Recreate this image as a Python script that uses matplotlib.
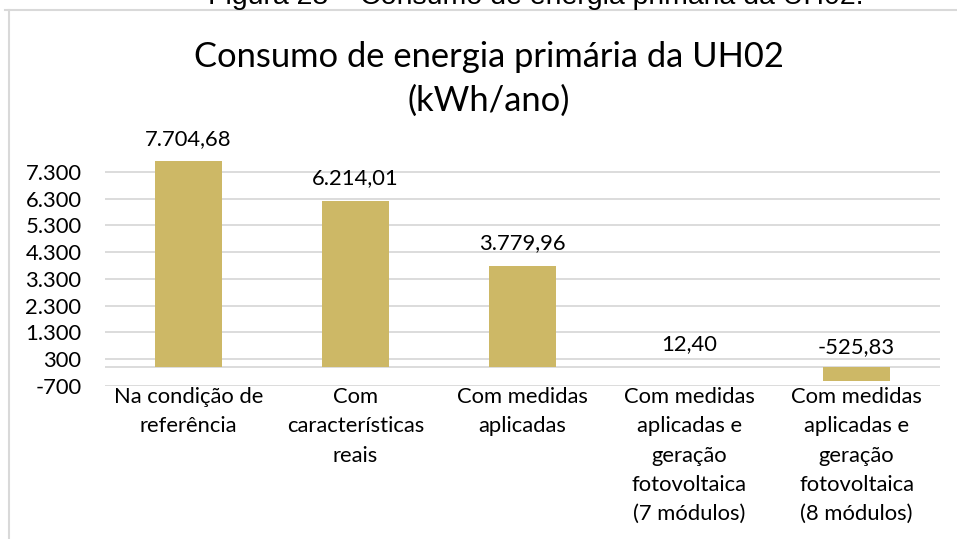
import matplotlib
matplotlib.use('Agg')
import matplotlib.pyplot as plt
from matplotlib.lines import Line2D
import numpy as np

plt.rcParams.update({
    'font.family': ['Lato', 'DejaVu Sans'],
    'figure.dpi': 100,
    'savefig.dpi': 100,
})

# data
categories = [
    'Na condição de\nreferência',
    'Com\ncaracterísticas\nreais',
    'Com medidas\naplicadas',
    'Com medidas\naplicadas e\ngeração\nfotovoltaica\n(7 módulos)',
    'Com medidas\naplicadas e\ngeração\nfotovoltaica\n(8 módulos)',
]
values = [7704.68, 6214.01, 3779.96, 12.40, -525.83]
value_labels = ['7.704,68', '6.214,01', '3.779,96', '12,40', '-525,83']
ytick_values = [-700, 300, 1300, 2300, 3300, 4300, 5300, 6300, 7300]
ytick_labels = ['-700', '300', '1.300', '2.300', '3.300', '4.300', '5.300', '6.300', '7.300']

bar_color = '#CDB866'
grid_color = '#D9D9D9'
W, H = 957, 539
fs = 15.8

fig = plt.figure(figsize=(W / 100, H / 100))
ax = fig.add_axes([105 / W, 1 - 385.7 / H, 835 / W, (385.7 - 145.3) / H])

x = np.arange(len(values))
ax.bar(x, values, width=0.4, color=bar_color, zorder=3)
ax.set_xlim(-0.5, len(values) - 0.5)
ax.set_ylim(-700, 8300)

for yv in ytick_values:
    ax.axhline(yv, color=grid_color, lw=1.3, zorder=1)
ax.axhline(0, color=grid_color, lw=1.3, zorder=2)

ax.set_yticks(ytick_values)
ax.set_yticklabels(ytick_labels, fontsize=fs, color='#000000')
ax.set_xticks(x)
ax.set_xticklabels(categories, fontsize=fs, va='top')
for t in ax.get_xticklabels():
    t.set_linespacing(1.58)
ax.tick_params(axis='both', length=0)
ax.tick_params(axis='y', pad=17)
ax.tick_params(axis='x', pad=1.0)
for s in ax.spines.values():
    s.set_visible(False)

# data labels above bars
for xi, v, lab in zip(x, values, value_labels):
    ax.annotate(lab, (xi, max(v, 0)), xytext=(0, 9 if v >= 0 else 7),
                textcoords='offset points', ha='center', va='bottom',
                fontsize=fs)

# chart title
fig.text(489 / W, 1 - 57 / H, 'Consumo de energia primária da UH02',
         ha='center', va='center', fontsize=24.8)
fig.text(489 / W, 1 - 101 / H, '(kWh/ano)',
         ha='center', va='center', fontsize=24.8)

# caption cut off by the top edge, as in the source image
fig.text(536 / W, 1 - 4 / H, 'Figura 28 – Consumo de energia primária da UH02.',
         ha='center', va='baseline', fontsize=20.5,
         family=['Liberation Sans', 'DejaVu Sans'])

# chart frame
fig.add_artist(Line2D([5 / W, 1], [1 - 9.5 / H, 1 - 9.5 / H], color=grid_color, lw=1.5))
fig.add_artist(Line2D([9 / W, 9 / W], [0, 1 - 9.5 / H], color=grid_color, lw=1.5))

fig.savefig('out.png')
